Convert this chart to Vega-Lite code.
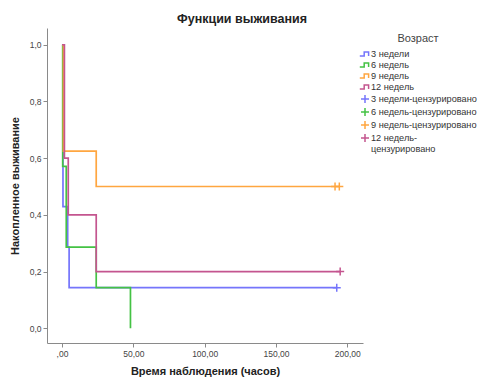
{
  "$schema": "https://vega.github.io/schema/vega-lite/v6.json",
  "width": 316,
  "height": 315,
  "autosize": {"type": "none"},
  "padding": {"left": 47, "top": 28, "right": 118, "bottom": 36},
  "config": {
    "font": "Liberation Sans",
    "view": {"stroke": null},
    "axis": {
      "grid": false,
      "domainColor": "#8a8a8a",
      "tickColor": "#8a8a8a",
      "tickSize": 4,
      "labelFontSize": 8.5,
      "labelColor": "#444444",
      "titleFontSize": 11,
      "titleFontWeight": "bold",
      "titleColor": "#222222",
      "labelPadding": 2
    },
    "legend": {
      "orient": "none",
      "legendX": 313,
      "legendY": 5,
      "titleFontSize": 11,
      "titleFontWeight": "normal",
      "titleColor": "#444444",
      "titleAnchor": "middle",
      "titlePadding": 5,
      "labelFontSize": 9.2,
      "labelColor": "#333333",
      "labelLimit": 200,
      "symbolSize": 64,
      "symbolStrokeWidth": 1.5,
      "symbolFillColor": "transparent",
      "rowPadding": -1,
      "labelOffset": 1
    }
  },
  "title": {
    "text": "Функции выживания",
    "fontSize": 12.5,
    "fontWeight": "bold",
    "color": "#222222",
    "anchor": "middle",
    "dx": 37,
    "offset": 3
  },
  "datasets": {
    "steps": [
      {"series": "3 недели", "t": 0, "s": 1.0},
      {"series": "3 недели", "t": 0.7, "s": 0.429},
      {"series": "3 недели", "t": 4, "s": 0.286},
      {"series": "3 недели", "t": 5, "s": 0.143},
      {"series": "3 недели", "t": 192.6, "s": 0.143},
      {"series": "6 недель", "t": 0, "s": 1.0},
      {"series": "6 недель", "t": 0.5, "s": 0.571},
      {"series": "6 недель", "t": 3, "s": 0.286},
      {"series": "6 недель", "t": 24, "s": 0.143},
      {"series": "6 недель", "t": 48, "s": 0.0},
      {"series": "9 недель", "t": 0, "s": 1.0},
      {"series": "9 недель", "t": 1, "s": 0.625},
      {"series": "9 недель", "t": 24, "s": 0.5},
      {"series": "9 недель", "t": 194.4, "s": 0.5},
      {"series": "12 недель", "t": 0, "s": 1.0},
      {"series": "12 недель", "t": 1.7, "s": 0.6},
      {"series": "12 недель", "t": 4.4, "s": 0.4},
      {"series": "12 недель", "t": 24, "s": 0.2},
      {"series": "12 недель", "t": 195, "s": 0.2}
    ],
    "cens": [
      {"series": "3 недели-цензурировано", "t": 192.6, "s": 0.143},
      {"series": "9 недель-цензурировано", "t": 191.4, "s": 0.5},
      {"series": "9 недель-цензурировано", "t": 194.4, "s": 0.5},
      {"series": "12 недель-цензурировано", "t": 195, "s": 0.2}
    ]
  },
  "layer": [
    {
      "data": {"name": "steps"},
      "mark": {"type": "line", "interpolate": "step-after", "strokeWidth": 1.7},
      "encoding": {
        "x": {
          "field": "t",
          "type": "quantitative",
          "scale": {"domain": [-10.5, 211], "nice": false, "zero": false},
          "axis": {
            "values": [0, 50, 100, 150, 200],
            "labelExpr": "datum.value == 0 ? ',00' : replace(format(datum.value, '.2f'), '.', ',')",
            "title": "Время наблюдения (часов)",
            "titlePadding": 8
          }
        },
        "y": {
          "field": "s",
          "type": "quantitative",
          "scale": {"domain": [-0.052, 1.059], "nice": false, "zero": false},
          "axis": {
            "values": [0, 0.2, 0.4, 0.6, 0.8, 1.0],
            "labelExpr": "replace(format(datum.value, '.1f'), '.', ',')",
            "title": "Накопленное выживание",
            "titlePadding": 9
          }
        },
        "color": {
          "field": "series",
          "type": "nominal",
          "scale": {
            "domain": ["3 недели", "6 недель", "9 недель", "12 недель", "3 недели-цензурировано", "6 недель-цензурировано", "9 недель-цензурировано", "12 недель-цензурировано"],
            "range": ["#7575fb", "#44c244", "#ffa640", "#c4558f", "#7575fb", "#44c244", "#ffa640", "#c4558f"]
          },
          "legend": {
            "title": "Возраст",
            "labelExpr": "datum.label == '12 недель-цензурировано' ? ['12 недель-', 'цензурировано'] : datum.label"
          }
        }
      }
    },
    {
      "data": {"name": "cens"},
      "mark": {"type": "point", "filled": false, "strokeWidth": 1.5, "size": 64, "opacity": 1},
      "encoding": {
        "x": {"field": "t", "type": "quantitative"},
        "y": {"field": "s", "type": "quantitative"},
        "color": {"field": "series", "type": "nominal"},
        "shape": {
          "field": "series",
          "type": "nominal",
          "scale": {
            "domain": ["3 недели", "6 недель", "9 недель", "12 недель", "3 недели-цензурировано", "6 недель-цензурировано", "9 недель-цензурировано", "12 недель-цензурировано"],
            "range": [
              "M-1.3,0.5L-0.2,0.5L-0.2,-0.5L0.9,-0.5L0.9,0.5",
              "M-1.3,0.5L-0.2,0.5L-0.2,-0.5L0.9,-0.5L0.9,0.5",
              "M-1.3,0.5L-0.2,0.5L-0.2,-0.5L0.9,-0.5L0.9,0.5",
              "M-1.3,0.5L-0.2,0.5L-0.2,-0.5L0.9,-0.5L0.9,0.5",
              "M-1,0L1,0M0,-1L0,1",
              "M-1,0L1,0M0,-1L0,1",
              "M-1,0L1,0M0,-1L0,1",
              "M-1,0L1,0M0,-1L0,1"
            ]
          },
          "legend": {
            "title": "Возраст",
            "labelExpr": "datum.label == '12 недель-цензурировано' ? ['12 недель-', 'цензурировано'] : datum.label"
          }
        }
      }
    }
  ]
}
